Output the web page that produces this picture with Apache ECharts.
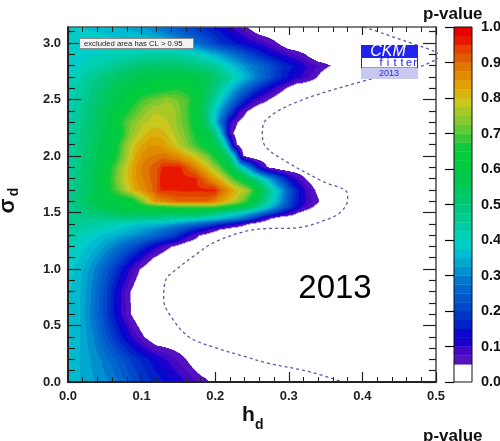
<!DOCTYPE html>
<html><head><meta charset="utf-8">
<script src="https://cdn.jsdelivr.net/npm/echarts@6/dist/echarts.min.js"></script>
<style>html,body{margin:0;padding:0;background:#fff}#c{width:500px;height:441px}</style>
</head><body><div id="c"></div>
<script>
// ---------- axis ticks ----------
const hdTicks = [0, 0.1, 0.2, 0.3, 0.4, 0.5];
const sigmaMajorTicks = [0, 0.5, 1.0, 1.5, 2.0, 2.5, 3.0];
const sigmaMinorTicks = [0.1,0.2,0.3,0.4,0.6,0.7,0.8,0.9,1.1,1.2,1.3,1.4,1.6,1.7,1.8,1.9,2.1,2.2,2.3,2.4,2.6,2.7,2.8,2.9,3.1];
const pTicks = [0,0.1,0.2,0.3,0.4,0.5,0.6,0.7,0.8,0.9,1.0];

// ---------- p-value profiles read along rows of constant sigma_d : [h_d, p] ----------
const sigmaRows = [0, 0.2, 0.4, 0.6, 0.8, 1.0, 1.1, 1.2, 1.3, 1.35, 1.4, 1.45, 1.5, 1.55, 1.6, 1.7, 1.8, 1.9, 2.0, 2.1, 2.2, 2.3, 2.4, 2.5, 2.6, 2.7, 2.8, 2.9, 3.0, 3.1416];
const pv_s000 = [[0,0.38],[0.016,0.35],[0.057,0.3],[0.098,0.2],[0.162,0.1],[0.192,0.05],[0.21,0]];
const pv_s020 = [[0,0.38],[0.015,0.35],[0.045,0.3],[0.085,0.2],[0.135,0.1],[0.16,0.05],[0.18,0]];
const pv_s040 = [[0,0.38],[0.016,0.35],[0.035,0.3],[0.06,0.2],[0.088,0.1],[0.103,0.05],[0.12,0]];
const pv_s060 = [[0,0.38],[0.016,0.35],[0.03,0.3],[0.052,0.2],[0.073,0.1],[0.085,0.05],[0.1,0]];
const pv_s080 = [[0,0.38],[0.017,0.35],[0.031,0.3],[0.053,0.2],[0.072,0.1],[0.084,0.05],[0.1,0]];
const pv_s100 = [[0,0.39],[0.02,0.35],[0.036,0.3],[0.062,0.2],[0.084,0.1],[0.097,0.05],[0.115,0]];
const pv_s110 = [[0,0.40],[0.025,0.36],[0.045,0.3],[0.075,0.2],[0.1,0.1],[0.115,0.05],[0.135,0]];
const pv_s120 = [[0,0.41],[0.035,0.36],[0.06,0.3],[0.095,0.2],[0.123,0.1],[0.14,0.05],[0.16,0]];
const pv_s130 = [[0,0.44],[0.02,0.4],[0.065,0.35],[0.1,0.3],[0.145,0.2],[0.165,0.1],[0.178,0.05],[0.2,0]];
const pv_s135 = [[0,0.45],[0.03,0.42],[0.08,0.36],[0.12,0.3],[0.16,0.2],[0.19,0.1],[0.205,0.05],[0.225,0]];
const pv_s140 = [[0,0.46],[0.04,0.44],[0.09,0.38],[0.13,0.35],[0.18,0.25],[0.215,0.15],[0.23,0.1],[0.243,0.05],[0.26,0]];
const pv_s145 = [[0,0.46],[0.04,0.47],[0.08,0.48],[0.15,0.45],[0.2,0.38],[0.235,0.28],[0.255,0.18],[0.265,0.1],[0.275,0.05],[0.29,0]];
const pv_s150 = [[0,0.46],[0.03,0.5],[0.07,0.56],[0.18,0.56],[0.2,0.5],[0.24,0.38],[0.27,0.25],[0.29,0.15],[0.3,0.1],[0.312,0.05],[0.33,0]];
const pv_s155 = [[0,0.46],[0.02,0.5],[0.05,0.57],[0.1,0.63],[0.15,0.68],[0.2,0.68],[0.23,0.6],[0.25,0.5],[0.27,0.38],[0.29,0.26],[0.305,0.17],[0.318,0.1],[0.332,0.05],[0.35,0]];
const pv_s160 = [[0,0.46],[0.012,0.5],[0.03,0.56],[0.085,0.62],[0.1,0.72],[0.118,0.85],[0.15,0.9],[0.19,0.9],[0.205,0.85],[0.225,0.78],[0.24,0.7],[0.258,0.55],[0.27,0.45],[0.285,0.35],[0.3,0.22],[0.318,0.12],[0.33,0.08],[0.341,0.05],[0.36,0]];
const pv_s170 = [[0,0.45],[0.015,0.5],[0.04,0.57],[0.055,0.65],[0.075,0.75],[0.09,0.82],[0.115,0.9],[0.126,0.95],[0.2,0.96],[0.205,0.92],[0.22,0.85],[0.245,0.75],[0.26,0.6],[0.275,0.45],[0.29,0.33],[0.305,0.2],[0.322,0.1],[0.335,0.05],[0.355,0]];
const pv_s180 = [[0,0.44],[0.015,0.5],[0.04,0.58],[0.055,0.66],[0.07,0.75],[0.085,0.82],[0.095,0.86],[0.12,0.92],[0.126,0.96],[0.172,0.96],[0.182,0.92],[0.195,0.86],[0.21,0.8],[0.225,0.7],[0.24,0.6],[0.255,0.48],[0.268,0.38],[0.285,0.25],[0.3,0.14],[0.31,0.1],[0.322,0.05],[0.34,0]];
const pv_s190 = [[0,0.43],[0.018,0.5],[0.045,0.58],[0.058,0.66],[0.07,0.74],[0.085,0.82],[0.1,0.88],[0.124,0.93],[0.128,0.96],[0.152,0.96],[0.162,0.92],[0.175,0.87],[0.19,0.8],[0.205,0.72],[0.22,0.6],[0.232,0.45],[0.24,0.37],[0.25,0.25],[0.258,0.15],[0.264,0.1],[0.27,0.05],[0.29,0]];
const pv_s200 = [[0,0.42],[0.02,0.5],[0.055,0.6],[0.068,0.68],[0.08,0.76],[0.092,0.83],[0.105,0.87],[0.13,0.89],[0.15,0.86],[0.17,0.8],[0.19,0.72],[0.205,0.63],[0.215,0.55],[0.222,0.45],[0.227,0.35],[0.231,0.22],[0.234,0.12],[0.238,0.05],[0.25,0]];
const pv_s210 = [[0,0.42],[0.02,0.5],[0.06,0.6],[0.068,0.67],[0.08,0.75],[0.093,0.81],[0.11,0.85],[0.125,0.85],[0.14,0.81],[0.155,0.76],[0.175,0.68],[0.195,0.6],[0.208,0.5],[0.214,0.4],[0.218,0.3],[0.222,0.18],[0.225,0.1],[0.229,0.05],[0.24,0]];
const pv_s220 = [[0,0.42],[0.022,0.5],[0.065,0.6],[0.075,0.67],[0.085,0.74],[0.1,0.79],[0.115,0.82],[0.13,0.81],[0.145,0.77],[0.16,0.72],[0.175,0.65],[0.19,0.58],[0.2,0.5],[0.206,0.4],[0.211,0.3],[0.215,0.2],[0.219,0.1],[0.224,0.05],[0.235,0]];
const pv_s230 = [[0,0.41],[0.025,0.5],[0.06,0.6],[0.078,0.7],[0.1,0.77],[0.12,0.79],[0.14,0.77],[0.162,0.7],[0.178,0.6],[0.19,0.5],[0.198,0.4],[0.205,0.3],[0.213,0.2],[0.22,0.1],[0.23,0.05],[0.245,0]];
const pv_s240 = [[0,0.41],[0.03,0.5],[0.065,0.6],[0.09,0.7],[0.115,0.77],[0.14,0.77],[0.16,0.7],[0.177,0.6],[0.188,0.5],[0.198,0.4],[0.21,0.3],[0.222,0.2],[0.232,0.1],[0.243,0.05],[0.26,0]];
const pv_s250 = [[0,0.4],[0.035,0.5],[0.075,0.6],[0.103,0.7],[0.135,0.75],[0.162,0.7],[0.18,0.6],[0.192,0.5],[0.205,0.4],[0.22,0.3],[0.235,0.2],[0.252,0.1],[0.272,0.05],[0.29,0]];
const pv_s260 = [[0,0.4],[0.04,0.5],[0.09,0.6],[0.15,0.67],[0.178,0.6],[0.198,0.5],[0.215,0.4],[0.232,0.3],[0.25,0.22],[0.265,0.15],[0.28,0.1],[0.295,0.05],[0.31,0]];
const pv_s270 = [[0,0.39],[0.05,0.5],[0.1,0.58],[0.15,0.6],[0.19,0.56],[0.21,0.48],[0.235,0.38],[0.255,0.3],[0.28,0.2],[0.3,0.14],[0.318,0.1],[0.338,0.05],[0.355,0]];
const pv_s280 = [[0,0.38],[0.06,0.45],[0.1,0.52],[0.16,0.52],[0.2,0.45],[0.22,0.38],[0.24,0.32],[0.265,0.25],[0.29,0.18],[0.31,0.14],[0.325,0.1],[0.356,0.05],[0.37,0]];
const pv_s290 = [[0,0.38],[0.08,0.42],[0.14,0.45],[0.18,0.4],[0.2,0.35],[0.225,0.28],[0.25,0.2],[0.275,0.14],[0.295,0.1],[0.322,0.05],[0.34,0]];
const pv_s300 = [[0,0.38],[0.06,0.39],[0.12,0.38],[0.15,0.33],[0.18,0.26],[0.21,0.18],[0.24,0.13],[0.26,0.1],[0.284,0.05],[0.3,0]];
const pv_s314 = [[0,0.38],[0.04,0.37],[0.1,0.33],[0.15,0.23],[0.19,0.16],[0.22,0.11],[0.243,0.05],[0.26,0]];

// ---------- dashed contour (h_d, sigma_d) ----------
const dashedH = [0.394,0.43,0.47,0.496,0.506,0.496,0.469,0.397,0.311,0.270,0.264,0.268,0.298,0.346,0.379,0.380,0.370,0.352,0.315,0.255,0.201,0.17,0.147,0.133,0.130,0.143,0.164,0.197,0.242,0.270,0.329,0.378];
const dashedS = [3.16,3.08,2.99,2.93,2.885,2.84,2.77,2.655,2.478,2.327,2.211,2.087,1.945,1.776,1.679,1.616,1.501,1.439,1.368,1.35,1.243,1.11,0.995,0.906,0.728,0.55,0.40,0.31,0.222,0.169,0.089,-0.01];

// ---------- styles ----------
const levelMin = 0.05, levelStep = 0.025;
const bandColors = ['#5512bf','#4408c4','#1a00cc','#0808cc','#0022c8','#0034c8','#0048cc','#0058cc','#0068cc','#0078cc',
  '#0090d0','#00a8d0','#00bcd0','#00ccc8','#00d0b4','#00cca4','#00cc90','#00c880','#00c870','#00c860',
  '#00c850','#00c848','#00cc40','#00cc3c','#10c83c','#38c838','#60c830','#88c830','#a8c828','#c8c820',
  '#d8b410','#e0a000','#e08c00','#e07800','#e05c00','#e44000','#e81800','#e80000'];
const FONT = '"Liberation Sans", Arial, sans-serif';

const rowProfiles = [pv_s000,pv_s020,pv_s040,pv_s060,pv_s080,pv_s100,pv_s110,pv_s120,pv_s130,pv_s135,pv_s140,pv_s145,pv_s150,pv_s155,pv_s160,pv_s170,pv_s180,pv_s190,pv_s200,pv_s210,pv_s220,pv_s230,pv_s240,pv_s250,pv_s260,pv_s270,pv_s280,pv_s290,pv_s300,pv_s314];

function profileAt(prof, x) {
  if (x <= prof[0][0]) return prof[0][1];
  for (let k = 1; k < prof.length; k++) {
    if (x <= prof[k][0]) {
      const a = prof[k-1], b = prof[k];
      return a[1] + (b[1]-a[1]) * (x-a[0]) / (b[0]-a[0]);
    }
  }
  return prof[prof.length-1][1];
}
function pval(x, y) {
  let i = 0;
  while (i < sigmaRows.length - 2 && y > sigmaRows[i+1]) i++;
  let t = (y - sigmaRows[i]) / (sigmaRows[i+1] - sigmaRows[i]);
  t = Math.min(1, Math.max(0, t));
  return profileAt(rowProfiles[i], x) * (1-t) + profileAt(rowProfiles[i+1], x) * t;
}
function bandOf(p) {
  if (p < levelMin) return -1;
  return Math.min(bandColors.length-1, Math.floor((p - levelMin) / levelStep));
}

// build cell runs (table for the custom series)
const NX = 736, NY = 355, XMAX = 0.5, YMAX = Math.PI;
const fieldRuns = [];
for (let j = 0; j < NY; j++) {
  const y0 = j * YMAX / NY, y1 = (j+1) * YMAX / NY, yc = (y0+y1)/2;
  let cur = -2, start = 0;
  for (let i = 0; i <= NX; i++) {
    const b = i < NX ? bandOf(pval((i+0.5)*XMAX/NX, yc)) : -3;
    if (b !== cur) {
      if (cur >= 0) fieldRuns.push([start*XMAX/NX, i*XMAX/NX, y0, y1, cur]);
      cur = b; start = i;
    }
  }
}
const colorbarData = bandColors.map((c, k) => [levelMin + k*levelStep, levelMin + (k+1)*levelStep, k]);
const dashedData = dashedH.map((h, k) => [h, dashedS[k]]);

const chart = echarts.init(document.getElementById('c'), null, {renderer: 'canvas'});

const axisLabelStyle = {color:'#222', fontFamily: FONT, fontWeight:'bold', fontSize:13};
function yAx(pos, ticks, len, withLabel, lineShow, lineColor) {
  return {
    type:'value', gridIndex:0, position:pos, min:0, max:YMAX, z:10,
    axisLine:{show:lineShow, onZero:false, lineStyle:{color:lineColor, width:2}},
    axisTick:{show:true, inside:true, length:len, customValues:ticks, lineStyle:{color:'#222', width:1.2}},
    axisLabel: withLabel ? Object.assign({show:true, margin:7, customValues:ticks, formatter:v=>v.toFixed(1)}, axisLabelStyle) : {show:false},
    splitLine:{show:false}
  };
}

const option = {
  animation:false,
  backgroundColor:'#ffffff',
  grid:[
    {left:68, top:27, width:368, height:355, containLabel:false, outerBoundsMode:'none'},
    {left:454, top:27, width:18, height:355, containLabel:false, outerBoundsMode:'none'}
  ],
  xAxis:[
    {type:'value', gridIndex:0, position:'bottom', min:hdTicks[0], max:hdTicks[hdTicks.length-1], interval:0.1, z:10,
     axisLine:{show:true, onZero:false, lineStyle:{color:'#222', width:2}},
     axisTick:{show:true, inside:true, length:10, lineStyle:{color:'#222', width:1.2}},
     minorTick:{show:true, splitNumber:5, length:5, lineStyle:{color:'#222', width:1}},
     axisLabel:Object.assign({show:true, margin:8, formatter:v=>v.toFixed(1)}, axisLabelStyle),
     splitLine:{show:false}, minorSplitLine:{show:false}},
    {type:'value', gridIndex:0, position:'top', min:hdTicks[0], max:hdTicks[hdTicks.length-1], interval:0.1, z:10,
     axisLine:{show:true, onZero:false, lineStyle:{color:'#555', width:1.5}},
     axisTick:{show:true, inside:true, length:8, lineStyle:{color:'#222', width:1.2}},
     minorTick:{show:true, splitNumber:5, length:5, lineStyle:{color:'#222', width:1}},
     axisLabel:{show:false}, splitLine:{show:false}, minorSplitLine:{show:false}},
    {type:'value', gridIndex:1, min:0, max:1, show:false}
  ],
  yAxis:[
    yAx('left', sigmaMajorTicks, 13, true, true, '#222'),
    yAx('left', sigmaMinorTicks, 7, false, false, '#222'),
    yAx('right', sigmaMajorTicks, 13, false, true, '#777'),
    yAx('right', sigmaMinorTicks, 7, false, false, '#777'),
    {type:'value', gridIndex:1, position:'right', min:pTicks[0], max:pTicks[pTicks.length-1], z:10,
     axisLine:{show:false},
     axisTick:{show:true, inside:true, length:9, customValues:pTicks, lineStyle:{color:'#000', width:1.2}},
     axisLabel:{show:true, margin:9, customValues:pTicks, color:'#111', fontFamily:FONT, fontWeight:'bold', fontSize:14.5, formatter:v=>v.toFixed(1)},
     splitLine:{show:false}}
  ],
  series:[
    {type:'custom', xAxisIndex:0, yAxisIndex:0, data:fieldRuns, clip:true, silent:true, z:1,
     renderItem:(params, api) => {
       const a = api.coord([api.value(0), api.value(3)]);
       const b = api.coord([api.value(1), api.value(2)]);
       return {type:'rect', shape:{x:a[0], y:a[1], width:b[0]-a[0]+0.4, height:b[1]-a[1]+0.4},
               style:{fill:bandColors[api.value(4)]}};
     }},
    {type:'line', xAxisIndex:0, yAxisIndex:0, data:dashedData, showSymbol:false, smooth:0.35, clip:true, silent:true, z:3,
     lineStyle:{color:'#5a5aa8', width:1.3, type:[3,3]}},
    {type:'custom', xAxisIndex:2, yAxisIndex:4, data:colorbarData, silent:true, z:1,
     renderItem:(params, api) => {
       const a = api.coord([0, api.value(1)]);
       const b = api.coord([1, api.value(0)]);
       return {type:'rect', shape:{x:a[0], y:a[1], width:b[0]-a[0], height:b[1]-a[1]+0.3},
               style:{fill:bandColors[api.value(2)]}};
     }}
  ],
  graphic:[
    {type:'rect', z:100, shape:{x:454, y:27, width:18, height:355}, style:{fill:'none', stroke:'#111', lineWidth:1}},
    {type:'text', z:100, x:423, y:14.5, style:{text:'p-value', font:'bold 17px '+FONT, fill:'#111', align:'left', verticalAlign:'middle'}},
    {type:'text', z:100, x:423, y:436.5, style:{text:'p-value', font:'bold 17px '+FONT, fill:'#111', align:'left', verticalAlign:'middle'}},
    {type:'text', z:100, x:242, y:415.5, style:{text:'h', font:'bold 21px '+FONT, fill:'#111', align:'left', verticalAlign:'middle'}},
    {type:'text', z:100, x:255, y:425, style:{text:'d', font:'bold 14px '+FONT, fill:'#111', align:'left', verticalAlign:'middle'}},
    {type:'text', z:100, x:7.5, y:206, rotation:Math.PI/2, style:{text:'σ', font:'bold 22px '+FONT, fill:'#111', align:'center', verticalAlign:'middle'}},
    {type:'text', z:100, x:14, y:192, rotation:Math.PI/2, style:{text:'d', font:'bold 14px '+FONT, fill:'#111', align:'center', verticalAlign:'middle'}},
    {type:'text', z:100, x:335, y:288.5, style:{text:'2013', font:'33px '+FONT, fill:'#000', align:'center', verticalAlign:'middle'}},
    {type:'rect', z:100, shape:{x:79.5, y:38.5, width:114, height:10}, style:{fill:'#f3f3f3', stroke:'#8a8a8a', lineWidth:1}},
    {type:'text', z:101, x:84, y:43.5, style:{text:'excluded area has CL > 0.95', font:'7.7px '+FONT, fill:'#222', align:'left', verticalAlign:'middle'}},
    {type:'rect', z:100, shape:{x:361, y:45, width:57, height:12.5}, style:{fill:'#2222ee'}},
    {type:'text', z:101, x:388, y:51.5, style:{text:'CKM', font:'italic 16px '+FONT, fill:'#ffffff', align:'center', verticalAlign:'middle'}},
    {type:'rect', z:100, shape:{x:361.5, y:57.5, width:56, height:10.5}, style:{fill:'#ffffff', stroke:'#2222ee', lineWidth:1}},
    {type:'text', z:101, x:381, y:63, style:{text:'f', font:'11px '+FONT, fill:'#2222ee', align:'center', verticalAlign:'middle'}},
    {type:'text', z:101, x:388, y:63, style:{text:'i', font:'11px '+FONT, fill:'#2222ee', align:'center', verticalAlign:'middle'}},
    {type:'text', z:101, x:395, y:63, style:{text:'t', font:'11px '+FONT, fill:'#2222ee', align:'center', verticalAlign:'middle'}},
    {type:'text', z:101, x:402, y:63, style:{text:'t', font:'11px '+FONT, fill:'#2222ee', align:'center', verticalAlign:'middle'}},
    {type:'text', z:101, x:409, y:63, style:{text:'e', font:'11px '+FONT, fill:'#2222ee', align:'center', verticalAlign:'middle'}},
    {type:'text', z:101, x:415, y:63, style:{text:'r', font:'11px '+FONT, fill:'#2222ee', align:'center', verticalAlign:'middle'}},
    {type:'rect', z:100, shape:{x:361, y:68, width:57, height:11}, style:{fill:'#c8c8f0'}},
    {type:'text', z:101, x:389, y:73.5, style:{text:'2013', font:'9px '+FONT, fill:'#3333cc', align:'center', verticalAlign:'middle'}}
  ]
};
chart.setOption(option);
</script>
</body></html>
